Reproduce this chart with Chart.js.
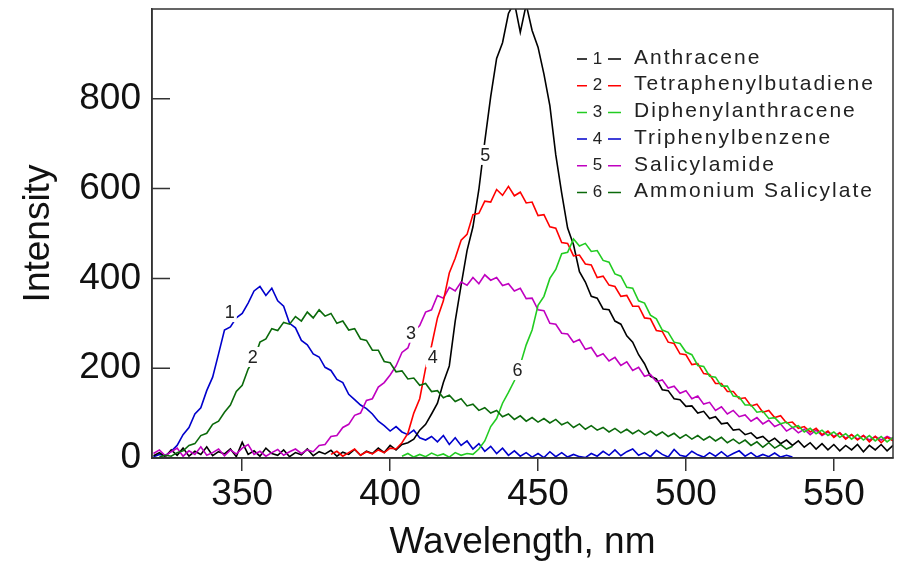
<!DOCTYPE html>
<html>
<head>
<meta charset="utf-8">
<script src="https://cdn.jsdelivr.net/npm/chart.js@4.4.1/dist/chart.umd.min.js"></script>
<style>
  html, body { margin: 0; padding: 0; background: #fff; }
  canvas { display: block; }
</style>
</head>
<body>
<canvas id="grafico" width="902" height="562"></canvas>
<script>
// ==========================
// Dados
// ==========================
const passo = 2; // nm entre pontos

const nomes = [
  "Anthracene",
  "Tetraphenylbutadiene",
  "Diphenylanthracene",
  "Triphenylbenzene",
  "Salicylamide",
  "Ammonium Salicylate",
];
const cores = ["#000000", "#ff0000", "#22cc22", "#0000cc", "#c000c0", "#0b6a0b"];

// inicio de cada serie, em nm
const inicioAnthracene = 320;
const inicioTetraphenyl = 380;
const inicioDiphenyl = 404;
const inicioTriphenyl = 320;
const inicioSalicylamide = 320;
const inicioAmmonium = 322;

const anthracene = [
  5, 12, 3, 18, 6, 22, 4, 15, 8, 25, 5, 14, 9, 20, 3, 35, 8, 16, 4, 22, 10, 6, 18, 3, 12, 7, 20, 5, 14, 9,
  17, 4, 13, 8, 19, 6, 15, 10, 22, 12, 28, 18, 30,
  34, 42, 62, 75, 98, 122, 168, 205, 305, 385, 462, 515, 598, 705, 805, 890, 925, 990, 1015, 948, 1010, 952,
  915, 855, 785, 675, 590, 512, 475, 415, 392, 360, 356, 332, 330, 305, 298, 272, 258, 230, 210, 182, 176, 152,
  150, 132, 130, 115, 116, 100, 104, 88, 92, 76, 78, 62, 64, 52, 56, 44, 48, 36, 44, 32, 40, 28, 38, 24, 34,
  20, 32, 18, 30, 16, 28, 18, 30, 14, 28, 18, 30, 16, 28,
];

const tetraphenyl = [
  8, 15, 4, 12, 20, 6, 14, 9, 18, 12, 22, 20, 34, 55, 100, 132, 200, 250, 312, 350, 412, 445, 485, 498, 542,
  545, 572, 570, 598, 585, 605, 584, 592, 568, 570, 540, 542, 515, 512, 480, 478, 450, 452, 432, 430, 402, 405,
  385, 382, 360, 362, 338, 338, 312, 310, 284, 282, 258, 255, 232, 230, 208, 210, 188, 186, 166, 166, 148, 148,
  132, 134, 116, 120, 102, 106, 90, 94, 78, 80, 66, 70, 58, 66, 52, 60, 46, 56, 42, 52, 40, 50, 36, 48, 34, 46, 38,
];

const diphenyl = [
  4, 10, 2, 8, 3, 11, 5, 9, 2, 12, 6, 10, 8, 20, 38, 70, 88, 122, 146, 172, 208, 252, 285, 340, 360, 400, 420,
  455, 458, 488, 472, 478, 460, 462, 440, 436, 410, 405, 380, 378, 350, 345, 318, 310, 285, 280, 258, 255, 236,
  230, 206, 204, 182, 180, 160, 160, 138, 136, 118, 118, 102, 104, 88, 90, 76, 80, 68, 72, 58, 66, 54, 62, 50,
  58, 46, 54, 42, 52, 40, 50, 38, 48, 36, 46,
];

const triphenyl = [
  3, 8, 5, 15, 28, 52, 68, 98, 112, 150, 180, 232, 285, 292, 312, 322, 345, 372, 382, 362, 378, 350, 338, 300,
  290, 262, 252, 232, 225, 202, 195, 175, 168, 142, 130, 118, 110, 98, 82, 72, 60, 70, 58, 52, 62, 45, 40, 48,
  36, 50, 30, 45, 28, 38, 20, 32, 15, 26, 10, 22, 6, 16, 4, 12, 2, 10, 1, 14, 3, 12, 2, 8, 3, 1, 10, 4, 15, 6,
  18, 5, 14, 20, 6, 12, 3, 17, 8, 2, 19, 6, 3, 15, 7, 2, 12, 4, 14, 3, 10, 16, 4, 12, 2, 8, 3, 11, 2, 6, 2,
];

const salicylamide = [
  10, 18, 5, 14, 22, 4, 16, 8, 25, 6, 12, 20, 5, 18, 9, 22, 30, 8, 15, 4, 12, 19, 6, 14, 20, 10, 18, 14, 28,
  30, 48, 50, 68, 75, 95, 100, 128, 132, 158, 168, 185, 205, 235, 245, 282, 295, 325, 330, 362, 356, 380, 372,
  392, 385, 402, 388, 408, 396, 402, 384, 388, 372, 378, 355, 356, 330, 328, 300, 298, 278, 276, 258, 264, 242,
  246, 226, 232, 216, 224, 206, 214, 195, 202, 182, 186, 170, 174, 156, 160, 144, 150, 132, 138, 120, 124, 106,
  114, 98, 106, 92, 96, 82, 90, 76, 84, 70, 76, 60, 68, 56, 64, 52, 62, 50, 58, 48, 56, 44, 52, 42, 50, 40, 48,
  40, 48, 42,
];

const ammonium = [
  2, 6, 4, 12, 16, 28, 32, 50, 55, 75, 82, 102, 118, 148, 162, 198, 220, 258, 265, 288, 284, 302, 298, 315,
  305, 325, 312, 330, 316, 322, 300, 305, 285, 288, 265, 262, 240, 240, 215, 212, 192, 194, 176, 178, 162, 166,
  148, 150, 134, 140, 126, 132, 116, 120, 106, 112, 100, 106, 92, 98, 86, 94, 82, 90, 80, 88, 78, 86, 74, 80,
  68, 76, 64, 72, 62, 68, 58, 66, 56, 64, 54, 62, 52, 60, 50, 58, 48, 55, 44, 52, 42, 50, 40, 48, 38, 46, 34,
  42, 32, 40, 28, 36, 24, 34, 22, 30, 20, 26,
];

// eixos
const xMin = 319.5;
const xMax = 570;
const yMin = 0;
const yMax = 1000;
const xTicks = [350, 400, 450, 500, 550];
const yTicks = [0, 200, 400, 600, 800];

// numeros escritos sobre as curvas
const rotuloTexto = ["1", "2", "3", "4", "5", "6"];
const rotuloX = [345.8, 353.6, 407.1, 414.4, 432.2, 443.1];
const rotuloY = [325, 225, 279, 224, 675, 196];

// ==========================
// Montagem das series
// ==========================
function pontos(inicio, valores) {
  return valores.map((v, i) => ({ x: inicio + i * passo, y: v }));
}

const fonte = "'Liberation Sans', Arial, sans-serif";

// ordem de desenho: a primeira fica por cima
const series = [
  { idx: 5, data: pontos(inicioAmmonium, ammonium) },
  { idx: 2, data: pontos(inicioDiphenyl, diphenyl) },
  { idx: 1, data: pontos(inicioTetraphenyl, tetraphenyl) },
  { idx: 4, data: pontos(inicioSalicylamide, salicylamide) },
  { idx: 0, data: pontos(inicioAnthracene, anthracene) },
  { idx: 3, data: pontos(inicioTriphenyl, triphenyl) },
];

const datasets = series.map((s) => ({
  label: nomes[s.idx],
  data: s.data,
  borderColor: cores[s.idx],
  backgroundColor: cores[s.idx],
  borderWidth: 1.6,
  pointRadius: 0,
  tension: 0,
  fill: false,
}));

// ==========================
// Plugins de desenho extra
// ==========================
const moldura = {
  id: "moldura",
  afterDraw(chart) {
    const { ctx, chartArea: a, scales } = chart;
    ctx.save();
    ctx.strokeStyle = "#333";
    ctx.lineWidth = 1.5;
    ctx.strokeRect(a.left, a.top, a.right - a.left, a.bottom - a.top);
    // marcas do eixo y para dentro
    ctx.beginPath();
    yTicks.forEach((v) => {
      const y = scales.y.getPixelForValue(v);
      ctx.moveTo(a.left, y);
      ctx.lineTo(a.left + 18, y);
    });
    ctx.stroke();
    ctx.restore();
  },
};

const rotulosCurvas = {
  id: "rotulosCurvas",
  afterDatasetsDraw(chart) {
    const { ctx, scales } = chart;
    ctx.save();
    ctx.font = "18px " + fonte;
    ctx.textAlign = "center";
    ctx.textBaseline = "middle";
    rotuloTexto.forEach((t, i) => {
      const px = scales.x.getPixelForValue(rotuloX[i]);
      const py = scales.y.getPixelForValue(rotuloY[i]);
      const w = ctx.measureText(t).width;
      ctx.fillStyle = "#fff";
      ctx.fillRect(px - w / 2 - 2, py - 10, w + 4, 20);
      ctx.fillStyle = "#222";
      ctx.fillText(t, px, py + 1);
    });
    ctx.restore();
  },
};

const legenda = {
  id: "legenda",
  afterDraw(chart) {
    const ctx = chart.ctx;
    ctx.save();
    ctx.textBaseline = "middle";
    nomes.forEach((nome, i) => {
      const y = 58 + i * 26.7;
      ctx.strokeStyle = cores[i];
      ctx.lineWidth = 1.5;
      ctx.beginPath();
      ctx.moveTo(577, y + 1);
      ctx.lineTo(587, y + 1);
      ctx.moveTo(608, y + 1);
      ctx.lineTo(621, y + 1);
      ctx.stroke();
      ctx.fillStyle = "#222";
      ctx.font = "17px " + fonte;
      ctx.textAlign = "center";
      ctx.letterSpacing = "0px";
      ctx.fillText(String(i + 1), 597.5, y + 1);
      ctx.font = "21px " + fonte;
      ctx.textAlign = "left";
      ctx.letterSpacing = "2px";
      ctx.fillText(nome, 634, y);
    });
    ctx.restore();
  },
};

// ==========================
// Grafico
// ==========================
const ctx = document.getElementById("grafico").getContext("2d");
new Chart(ctx, {
  type: "line",
  data: { datasets },
  options: {
    responsive: false,
    animation: false,
    layout: { padding: { left: 0, right: 9, top: 9, bottom: 0 } },
    plugins: { legend: { display: false }, tooltip: { enabled: false } },
    scales: {
      x: {
        type: "linear",
        min: xMin,
        max: xMax,
        afterBuildTicks: (s) => { s.ticks = xTicks.map((v) => ({ value: v })); },
        afterFit: (s) => {
          s.height = 104;
          s.paddingLeft = 0;
          s.paddingRight = 0;
        },
        grid: { drawOnChartArea: false, drawTicks: true, tickLength: 13, color: "#333", lineWidth: 1.5 },
        border: { display: true, color: "#333", width: 1.5 },
        ticks: { color: "#111", padding: 2, maxRotation: 0, font: { family: fonte, size: 37 } },
        title: {
          display: true,
          text: "Wavelength, nm",
          color: "#111",
          padding: { top: 0, bottom: -3 },
          font: { family: fonte, size: 37 },
        },
      },
      y: {
        min: yMin,
        max: yMax,
        afterBuildTicks: (s) => { s.ticks = yTicks.map((v) => ({ value: v })); },
        afterFit: (s) => {
          s.width = 152;
          s.paddingTop = 0;
          s.paddingBottom = 0;
        },
        grid: { display: false },
        border: { display: true, color: "#333", width: 1.5 },
        ticks: { color: "#111", padding: 3, font: { family: fonte, size: 37 } },
        title: {
          display: true,
          text: "Intensity",
          color: "#111",
          padding: { top: 17, bottom: 0 },
          font: { family: fonte, size: 37 },
        },
      },
    },
  },
  plugins: [moldura, rotulosCurvas, legenda],
});
</script>
</body>
</html>
